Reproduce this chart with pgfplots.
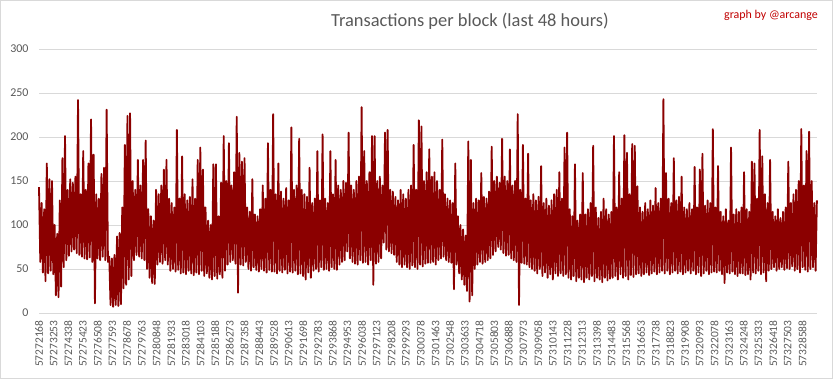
\documentclass[border=0pt]{standalone}
\usepackage{pgfplots}
\pgfplotsset{compat=1.18}
\usepackage{pgfplotstable}
\usepackage{fontspec}
\setmainfont{Carlito}
\definecolor{txt}{HTML}{595959}
\definecolor{gridc}{HTML}{D9D9D9}
\definecolor{series}{HTML}{8B0000}
\definecolor{credit}{HTML}{C00000}
\pgfplotstableread[header=false,row sep=\\]{
143\\58\\125\\46\\118\\36\\170\\45\\152\\48\\150\\44\\100\\20\\90\\18\\128\\30\\176\\52\\
201\\60\\140\\65\\152\\70\\148\\72\\155\\68\\242\\66\\135\\64\\184\\62\\140\\61\\170\\63\\
220\\58\\180\\11\\135\\62\\130\\60\\158\\64\\165\\60\\231\\58\\64\\9\\62\\7\\66\\9\\
87\\8\\91\\10\\120\\28\\191\\32\\224\\38\\227\\42\\150\\60\\140\\66\\174\\64\\145\\62\\
174\\60\\196\\50\\118\\40\\110\\34\\105\\33\\140\\55\\135\\58\\145\\56\\163\\60\\174\\55\\
130\\48\\125\\50\\120\\47\\208\\49\\130\\45\\178\\46\\135\\44\\128\\48\\132\\45\\152\\43\\
130\\46\\174\\44\\188\\48\\163\\42\\120\\45\\105\\40\\100\\38\\169\\42\\169\\39\\110\\44\\
148\\40\\201\\48\\150\\55\\193\\58\\145\\60\\160\\56\\223\\23\\182\\55\\172\\54\\176\\58\\
120\\50\\115\\48\\152\\52\\112\\49\\110\\47\\118\\50\\145\\48\\130\\46\\193\\49\\140\\47\\
226\\47\\135\\45\\170\\48\\138\\46\\130\\49\\142\\45\\128\\47\\211\\46\\140\\48\\145\\44\\
198\\45\\140\\42\\135\\38\\132\\46\\165\\40\\125\\48\\130\\50\\184\\47\\128\\52\\203\\49\\
130\\50\\125\\48\\184\\52\\135\\50\\174\\49\\145\\55\\140\\58\\150\\60\\148\\70\\205\\62\\
145\\58\\140\\56\\150\\55\\155\\60\\234\\57\\184\\58\\150\\55\\160\\60\\201\\32\\201\\56\\
150\\58\\155\\62\\145\\80\\205\\72\\208\\70\\140\\68\\138\\66\\132\\58\\128\\55\\140\\52\\
135\\55\\130\\52\\140\\50\\145\\54\\191\\52\\140\\50\\219\\55\\212\\53\\150\\56\\160\\57\\
186\\57\\155\\58\\160\\55\\150\\60\\140\\62\\197\\64\\135\\60\\130\\58\\128\\57\\125\\27\\
170\\55\\110\\45\\100\\38\\95\\32\\88\\25\\195\\13\\174\\20\\125\\50\\130\\55\\128\\58\\
159\\56\\132\\58\\130\\60\\138\\62\\189\\66\\150\\70\\155\\75\\148\\72\\198\\68\\155\\65\\
150\\66\\186\\62\\145\\60\\150\\58\\226\\9\\140\\57\\191\\56\\130\\55\\181\\52\\128\\50\\
135\\48\\128\\45\\132\\50\\167\\42\\125\\46\\130\\40\\122\\44\\128\\38\\135\\45\\140\\42\\
160\\45\\130\\42\\188\\44\\205\\40\\118\\38\\110\\42\\169\\36\\105\\40\\112\\38\\159\\35\\
112\\40\\118\\38\\125\\42\\190\\36\\120\\40\\108\\38\\115\\35\\130\\40\\118\\37\\112\\39\\
115\\40\\201\\42\\120\\38\\160\\44\\130\\40\\202\\42\\182\\38\\135\\43\\192\\41\\190\\44\\
144\\45\\120\\42\\115\\44\\125\\46\\118\\43\\128\\45\\122\\47\\142\\44\\125\\46\\130\\48\\
243\\45\\159\\48\\130\\44\\125\\46\\176\\48\\128\\45\\132\\47\\155\\44\\120\\46\\118\\48\\
125\\45\\118\\48\\166\\44\\120\\46\\163\\42\\181\\45\\122\\48\\128\\44\\125\\46\\209\\47\\
120\\46\\167\\48\\115\\44\\110\\34\\118\\46\\105\\45\\188\\47\\112\\44\\118\\42\\115\\45\\
120\\45\\160\\43\\118\\44\\115\\38\\172\\46\\170\\45\\130\\48\\208\\44\\178\\46\\135\\36\\
125\\48\\174\\50\\115\\52\\110\\48\\118\\50\\108\\52\\115\\49\\120\\51\\172\\50\\125\\53\\
135\\48\\140\\50\\150\\46\\209\\52\\145\\49\\184\\47\\206\\50\\150\\52\\125\\48\\128\\
}\txdata
\begin{document}
\begin{tikzpicture}
\path[use as bounding box, draw=gridc, line width=0.75bp] (0.375bp,0.375bp) rectangle (832.625bp,378.625bp);
\begin{axis}[
  at={(39bp,66bp)}, anchor=south west,
  scale only axis, width=778bp, height=264bp,
  xmin=39.5, xmax=817, ymin=0, ymax=300,
  ytick={0,50,...,300},
  xtick={39.5,54.173,...,803},
  xticklabels={57272168,57273253,57274338,57275423,57276508,57277593,57278678,57279763,57280848,57281933,57283018,57284103,57285188,57286273,57287358,57288443,57289528,57290613,57291698,57292783,57293868,57294953,57296038,57297123,57298208,57299293,57300378,57301463,57302548,57303633,57304718,57305803,57306888,57307973,57309058,57310143,57311228,57312313,57313398,57314483,57315568,57316653,57317738,57318823,57319908,57320993,57322078,57323163,57324248,57325333,57326418,57327503,57328588},
  axis line style={draw=none},
  tick style={draw=none},
  ymajorgrids,
  major grid style={gridc, line width=0.75bp},
  /pgf/number format/assume math mode=true,
  yticklabel style={text=txt, font=\fontsize{12}{13}\selectfont, xshift=-7bp},
  xticklabel style={rotate=90, anchor=east, text=txt, font=\fontsize{11.5}{12}\selectfont},
  xticklabel shift=4bp,
  clip=false,
]
\addplot[series, line width=1.8bp, line join=round] table[x expr={39.5+1.3*\coordindex}, y index=0] {\txdata};
\end{axis}
\node[text=txt, font=\fontsize{18.5}{20}\selectfont] at (470bp, 358bp) {Transactions per block (last 48 hours)};
\node[text=credit, font=\fontsize{12}{13}\selectfont] at (771bp, 364bp) {graph by @arcange};
\end{tikzpicture}
\end{document}
